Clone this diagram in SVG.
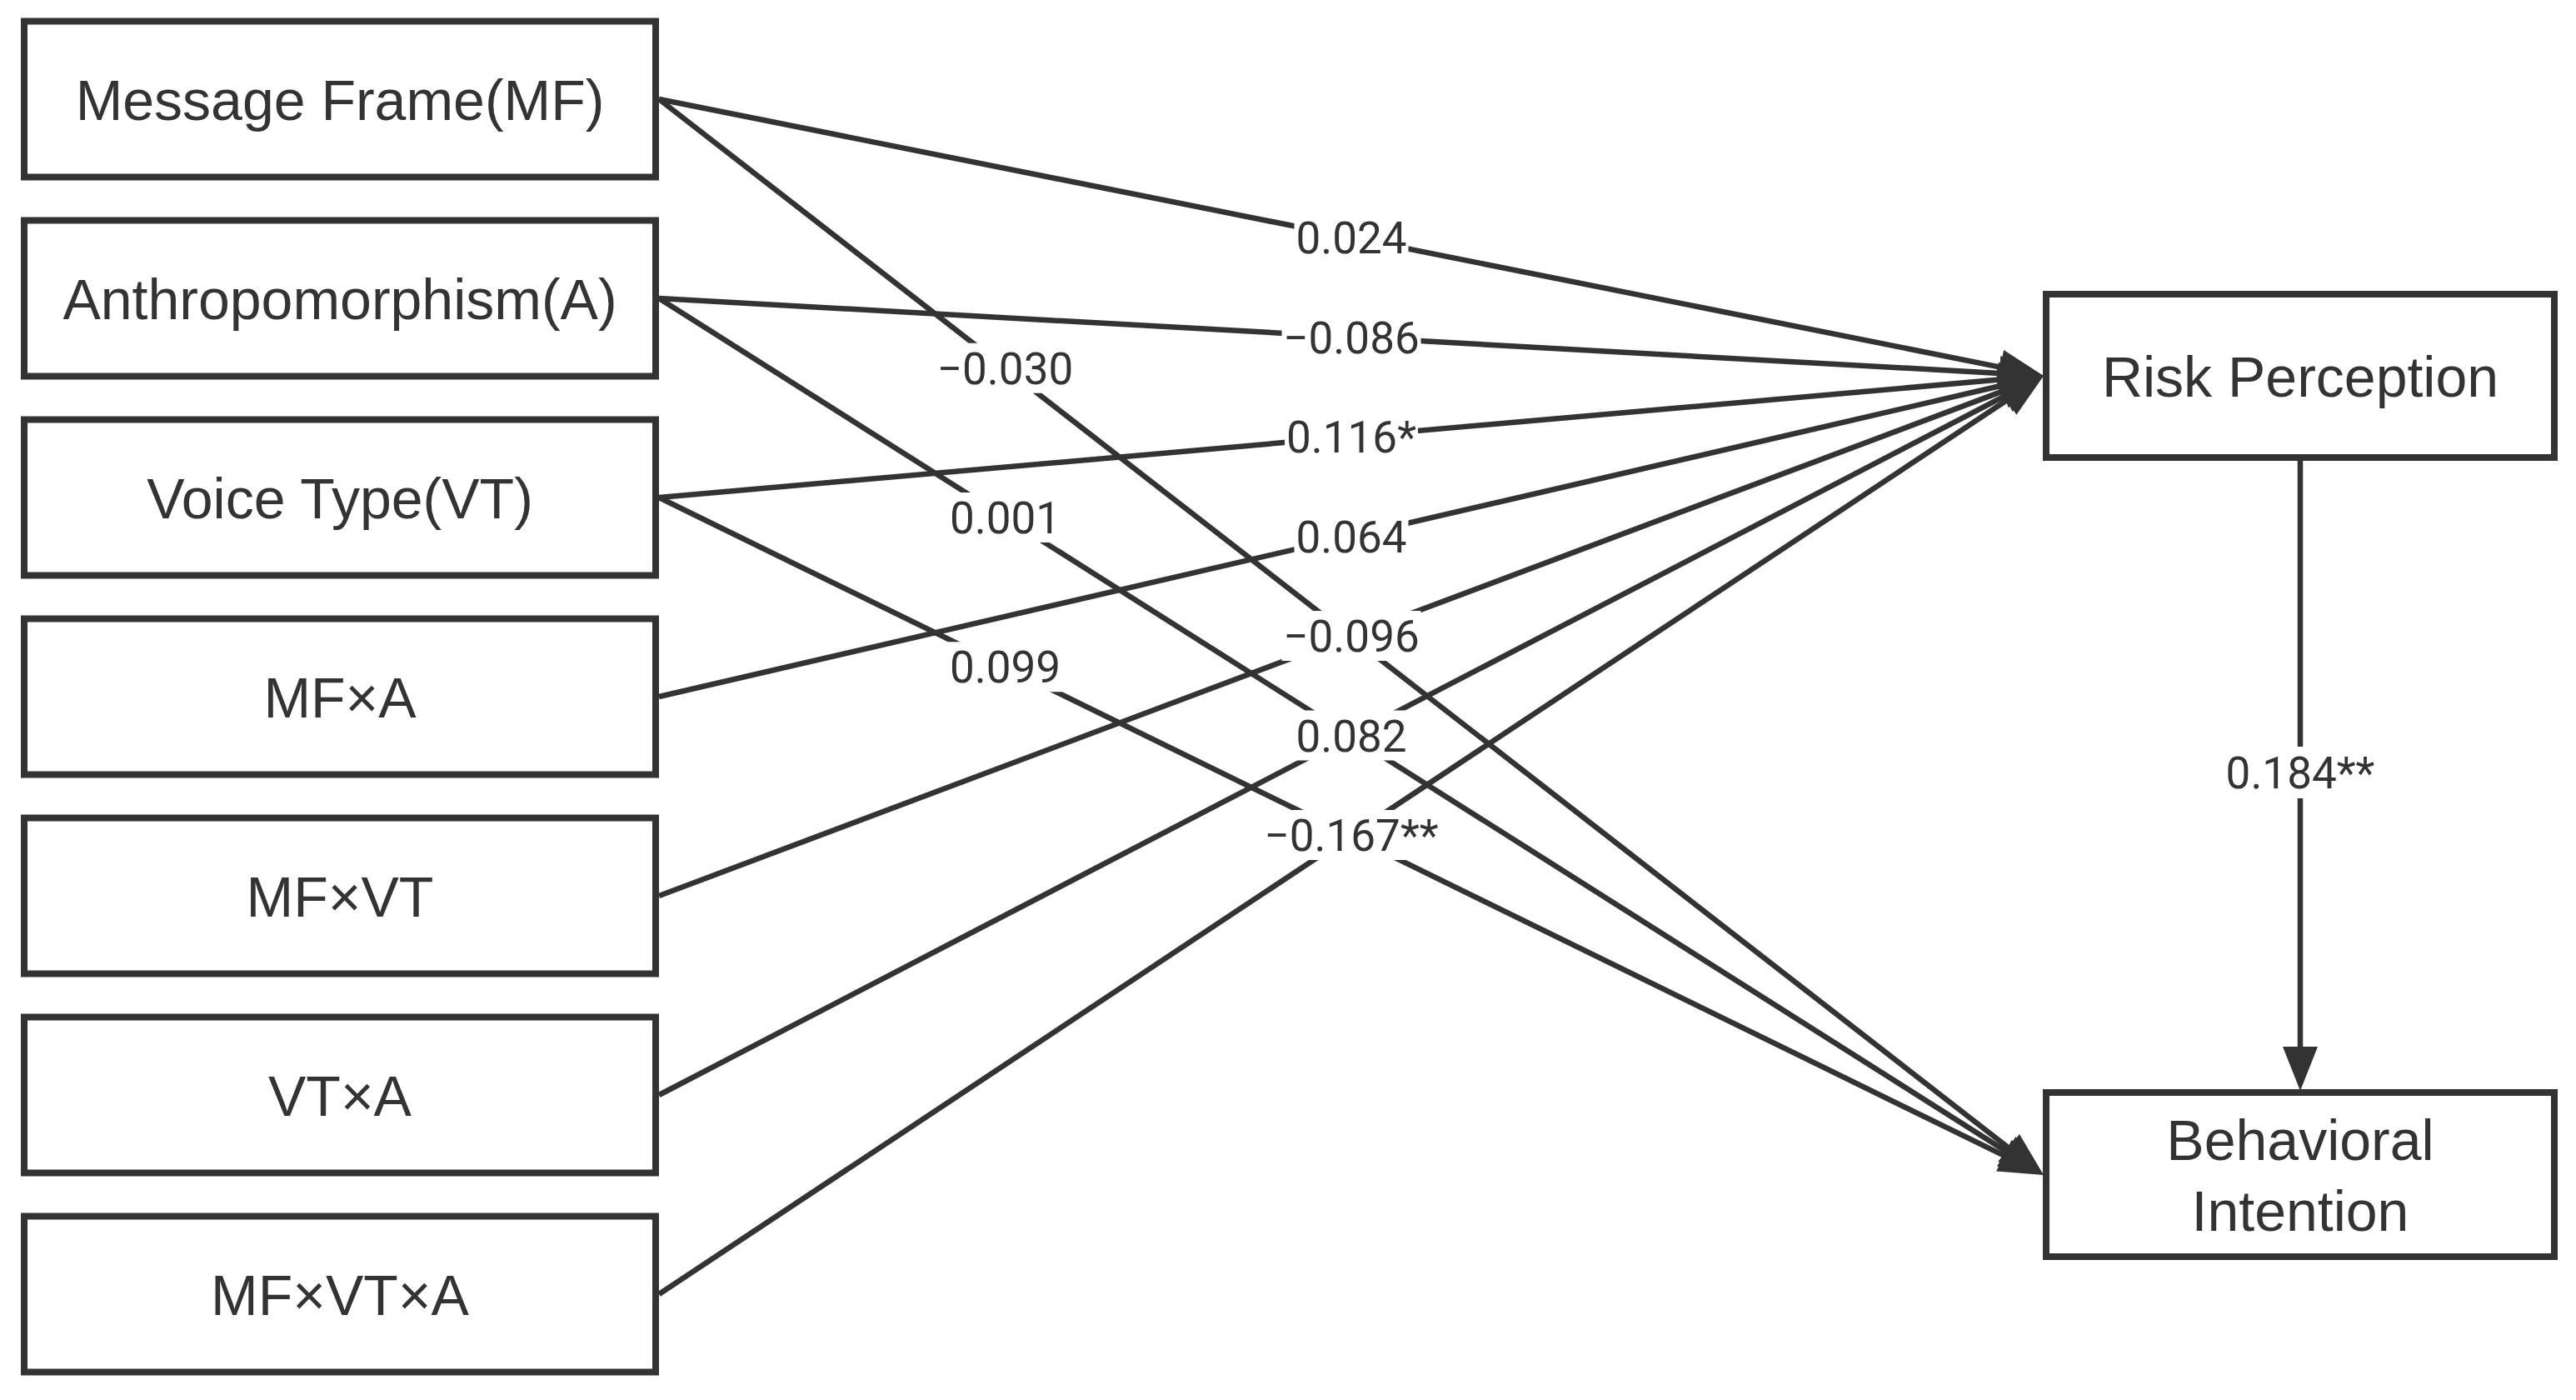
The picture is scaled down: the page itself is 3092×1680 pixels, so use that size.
<svg xmlns="http://www.w3.org/2000/svg" width="3092" height="1680" viewBox="0 0 3092 1680">
<style>
.box{fill:#ffffff;stroke:#333333;stroke-width:8}
.nt{font-family:"Liberation Sans",Arial,sans-serif;font-size:68px;fill:#333333;text-anchor:middle}
.ln{stroke:#333333;stroke-width:6.5;fill:none;marker-end:url(#ah)}
.lb{fill:#ffffff}
.lt{font-family:Roboto,"Liberation Sans",sans-serif;font-size:53px;fill:#333333;text-anchor:middle}
</style>
<defs>
<marker id="ah" markerUnits="userSpaceOnUse" markerWidth="60" markerHeight="50" viewBox="0 -25 60 50" refX="0" refY="0" orient="auto" overflow="visible">
<path d="M0,-21 L53,0 L0,21 Z" fill="#333333"/>
</marker>
</defs>
<rect width="3092" height="1680" fill="#ffffff"/>
<g id="connectors">
<line class="ln" x1="791" y1="119" x2="2401.0" y2="440.6"/>
<line class="ln" x1="791" y1="358" x2="2400.1" y2="448.0"/>
<line class="ln" x1="791" y1="597" x2="2400.2" y2="455.6"/>
<line class="ln" x1="791" y1="836" x2="2401.4" y2="463.0"/>
<line class="ln" x1="791" y1="1075" x2="2403.4" y2="469.6"/>
<line class="ln" x1="791" y1="1314" x2="2406.0" y2="475.4"/>
<line class="ln" x1="791" y1="1553" x2="2408.8" y2="480.3"/>
<line class="ln" x1="791" y1="119" x2="2411.1" y2="1377.5"/>
<line class="ln" x1="791" y1="358" x2="2408.2" y2="1381.7"/>
<line class="ln" x1="791" y1="597" x2="2405.4" y2="1386.7"/>
<line class="ln" x1="2761" y1="553" x2="2761" y2="1256"/>
<g id="labels">
<rect class="lb" x="1553.5" y="255" width="137" height="60"/><text class="lt" x="1622" y="304">0.024</text>
<rect class="lb" x="1538.5" y="374.5" width="167" height="60"/><text class="lt" x="1622" y="423.5">−0.086</text>
<rect class="lb" x="1542" y="494" width="160" height="60"/><text class="lt" x="1622" y="543">0.116*</text>
<rect class="lb" x="1553.5" y="613.5" width="137" height="60"/><text class="lt" x="1622" y="662.5">0.064</text>
<rect class="lb" x="1538.5" y="733" width="167" height="60"/><text class="lt" x="1622" y="782">−0.096</text>
<rect class="lb" x="1553.5" y="852.5" width="137" height="60"/><text class="lt" x="1622" y="901.5">0.082</text>
<rect class="lb" x="1515.5" y="972" width="213" height="60"/><text class="lt" x="1622" y="1021">−0.167**</text>
<rect class="lb" x="1123" y="411.75" width="167" height="60"/><text class="lt" x="1206.5" y="460.75">−0.030</text>
<rect class="lb" x="1138" y="591" width="137" height="60"/><text class="lt" x="1206.5" y="640">0.001</text>
<rect class="lb" x="1138" y="770.25" width="137" height="60"/><text class="lt" x="1206.5" y="819.25">0.099</text>
<rect class="lb" x="2669.5" y="896" width="183" height="62"/><text class="lt" x="2761" y="946">0.184**</text>
</g>
</g>
<g id="node-mf"><rect class="box" x="29" y="25.5" width="758" height="187"/><text class="nt" x="408" y="143.5">Message Frame(MF)</text></g>
<g id="node-a"><rect class="box" x="29" y="264.5" width="758" height="187"/><text class="nt" x="408" y="382.5">Anthropomorphism(A)</text></g>
<g id="node-vt"><rect class="box" x="29" y="503.5" width="758" height="187"/><text class="nt" x="408" y="621.5">Voice Type(VT)</text></g>
<g id="node-mfa"><rect class="box" x="29" y="742.5" width="758" height="187"/><text class="nt" x="408" y="860.5">MF×A</text></g>
<g id="node-mfvt"><rect class="box" x="29" y="981.5" width="758" height="187"/><text class="nt" x="408" y="1099.5">MF×VT</text></g>
<g id="node-vta"><rect class="box" x="29" y="1220.5" width="758" height="187"/><text class="nt" x="408" y="1338.5">VT×A</text></g>
<g id="node-mfvta"><rect class="box" x="29" y="1459.5" width="758" height="187"/><text class="nt" x="408" y="1577.5">MF×VT×A</text></g>
<g id="node-rp"><rect class="box" x="2456" y="353" width="610" height="196"/><text class="nt" x="2761" y="476">Risk Perception</text></g>
<g id="node-bi"><rect class="box" x="2456" y="1311" width="610" height="197"/><text class="nt" x="2761" y="1392">Behavioral</text><text class="nt" x="2761" y="1477">Intention</text></g>
</svg>
